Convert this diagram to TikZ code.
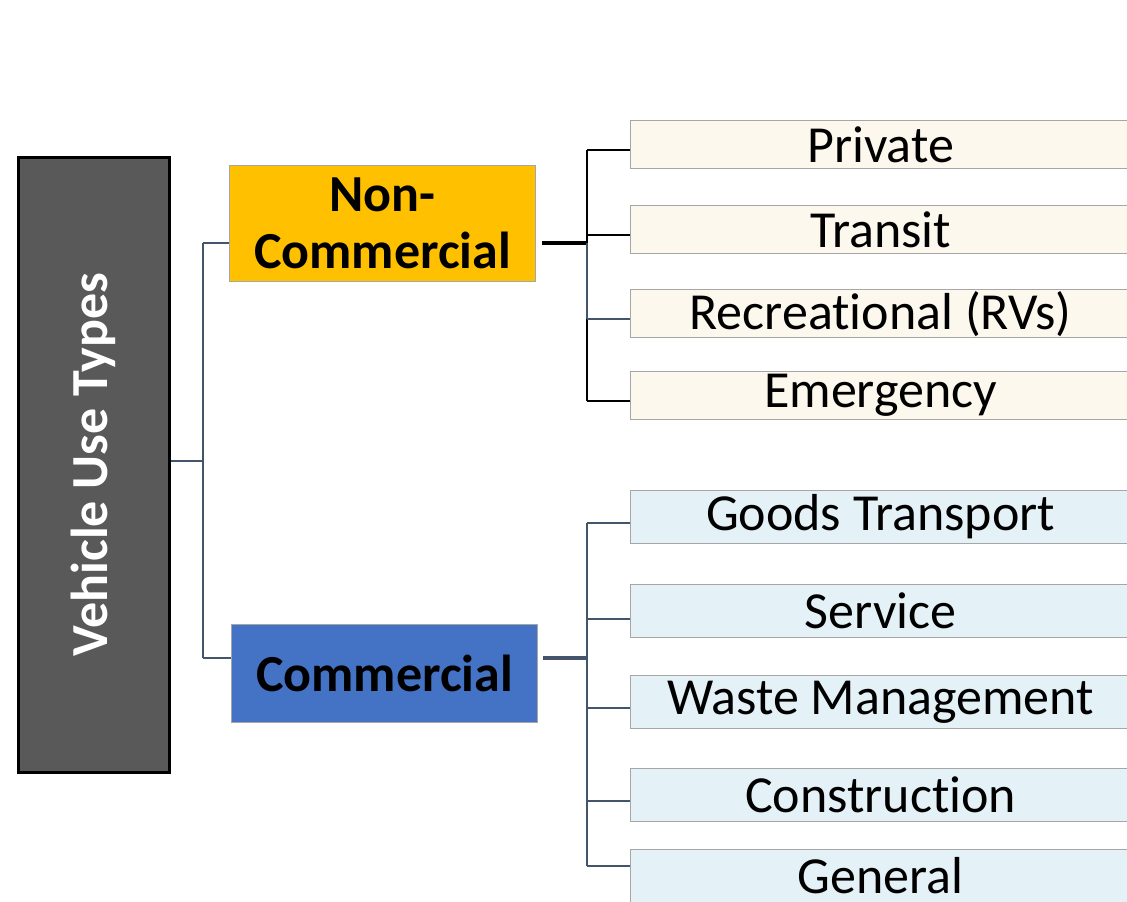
\documentclass[tikz,border=0pt]{standalone}
\usepackage{fontspec}
\setmainfont{Carlito}[Ligatures=NoCommon]
\usepackage{graphicx}
\definecolor{rootgray}{HTML}{595959}
\definecolor{amber}{HTML}{FFC000}
\definecolor{steelblue}{HTML}{4472C4}
\definecolor{cream}{HTML}{FDF8EE}
\definecolor{paleblue}{HTML}{E4F1F6}
\definecolor{slate}{HTML}{44546A}
\definecolor{edgegray}{HTML}{A6A6A6}
\tikzset{
  txt/.style={font=\fontsize{52}{57}\selectfont},
  rootbox/.style={draw=black, line width=2.5pt, fill=rootgray, text=white,
    font=\fontsize{52}{57}\selectfont\bfseries, inner sep=0pt, anchor=north west},
  groupbox/.style={draw=edgegray, line width=1.2pt, text=black, align=center,
    font=\fontsize{52}{57}\selectfont\bfseries, inner sep=0pt, anchor=north west,
    minimum width=306pt},
  leaf/.style={draw=edgegray, line width=1.2pt, txt, text=black, inner sep=0pt,
    anchor=north west, minimum width=500pt},
  ncleaf/.style={leaf, fill=cream, minimum height=48pt},
  cleaf/.style={leaf, fill=paleblue, minimum height=53pt},
  link/.style={draw=slate, line width=2.2pt},
  blink/.style={draw=black, line width=2.2pt},
  stub/.style={line width=4.5pt},
}
\begin{document}
\begin{tikzpicture}[x=1pt, y=-1pt]
\useasboundingbox (0,0) rectangle (1127,902);
\clip (0,0) rectangle (1127,902);
\fill[white] (0,0) rectangle (1127,902);

% root
\node[rootbox, minimum width=151pt, minimum height=615pt] (root) at (17,156)
  {\rotatebox{90}{Vehicle Use Types}};

% groups
\node[groupbox, fill=amber, minimum height=116pt] (nc) at (229,165) {Non-\\Commercial};
\node[groupbox, fill=steelblue, minimum height=98pt] (cm) at (231,624) {Commercial};

% non-commercial leaves
\node[ncleaf] (priv) at (630,120) {Private};
\node[ncleaf] (tran) at (630,205) {Transit};
\node[ncleaf] (recr) at (630,289) {Recreational (RVs)};
\node[ncleaf] (emer) at (630,371) {Emergency};

% commercial leaves
\node[cleaf] (good) at (630,490) {Goods Transport};
\node[cleaf] (serv) at (630,584) {Service};
\node[cleaf] (wast) at (630,675) {Waste Management};
\node[cleaf] (cons) at (630,768) {Construction};
\node[cleaf] (genr) at (630,849) {General};

% junction points of the tree
\coordinate (rj) at (203,461);
\coordinate (rtop) at (203,243);
\coordinate (rbot) at (203,658);
\coordinate (ncj) at (587,243);
\coordinate (p1) at (587,150);
\coordinate (p2) at (587,235);
\coordinate (p3) at (587,319);
\coordinate (p4) at (587,401);
\coordinate (cj) at (587,658);
\coordinate (q1) at (587,523);
\coordinate (q2) at (587,619);
\coordinate (q3) at (587,708);
\coordinate (q4) at (587,801);
\coordinate (q5) at (587,866);

% root to groups
\draw[link] (root.east |- rj) -- (rj);
\draw[link] (rtop) -- (rbot);
\draw[link] (rtop) -- (rtop -| nc.west);
\draw[link] (rbot) -- (rbot -| cm.west);

% non-commercial branch
\draw[black, stub] ([xshift=6pt]nc.east |- ncj) -- (ncj);
\draw[blink] (p1) -- (ncj);
\draw[link] (ncj) -- (p3);
\draw[blink] (p3) -- (p4);
\draw[blink] (p1) -- (p1 -| priv.west);
\draw[black, line width=1.6pt] (p2) -- (p2 -| tran.west);
\draw[link] (p3) -- (p3 -| recr.west);
\draw[blink] (p4) -- (p4 -| emer.west);

% commercial branch
\draw[slate, stub] ([xshift=5pt]cm.east |- cj) -- (cj);
\draw[link] (q1) -- (q5);
\draw[link] (q1) -- (q1 -| good.west);
\draw[link] (q2) -- (q2 -| serv.west);
\draw[link] (q3) -- (q3 -| wast.west);
\draw[link] (q4) -- (q4 -| cons.west);
\draw[link] (q5) -- (q5 -| genr.west);
\end{tikzpicture}
\end{document}
